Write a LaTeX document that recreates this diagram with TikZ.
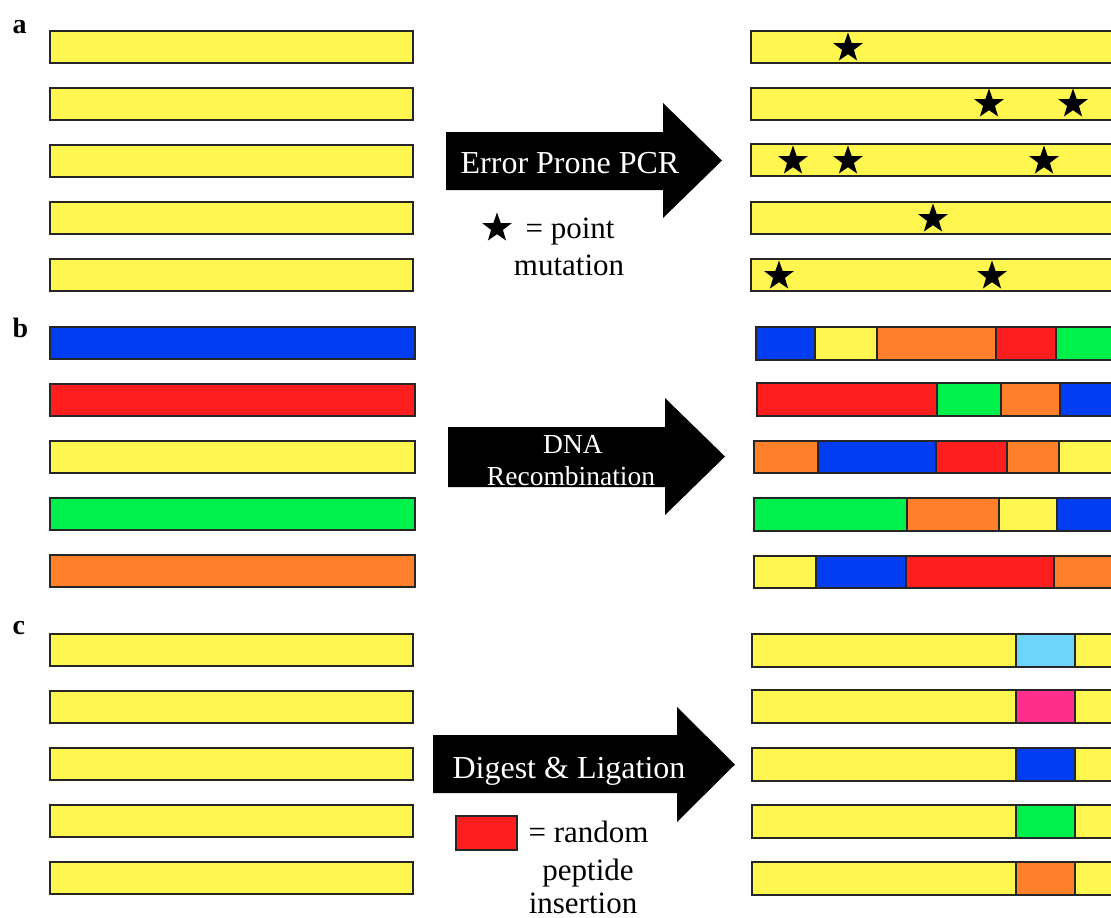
\documentclass[tikz,border=0pt]{standalone}
\usepackage{fontspec}
\setmainfont{Liberation Serif}
\usetikzlibrary{shapes.geometric}
\definecolor{cyel}{HTML}{FFF64F}
\definecolor{cblu}{HTML}{003CF0}
\definecolor{cred}{HTML}{FF1E1E}
\definecolor{cgrn}{HTML}{00F04C}
\definecolor{corg}{HTML}{FF7F2A}
\definecolor{clbl}{HTML}{6DD5FA}
\definecolor{cpnk}{HTML}{FF2D8C}
\begin{document}
\begin{tikzpicture}[x=1pt,y=-1pt,
  seg/.style={draw=black!85,line width=1.3pt},
  mut/.style={star,star points=5,star point ratio=2.5,fill=black,draw=none,minimum size=31pt,inner sep=0pt},
  arrowbody/.style={fill=black,draw=none},
  arrowtxt/.style={text=white,font=\fontsize{32}{34}\selectfont,anchor=base},
  legtxt/.style={text=black,font=\fontsize{31}{33}\selectfont,anchor=base},
  paneltag/.style={font=\bfseries\fontsize{28}{30}\selectfont,anchor=base west}]
\useasboundingbox (0,0) rectangle (1111,918);
\clip (0,0) rectangle (1111,918);

% panel labels
\node[paneltag] (la) at (9,33) {a};
\node[paneltag] (lb) at (9,337) {b};
\node[paneltag] (lc) at (9,634) {c};

% ---------- panel a ----------
\foreach \t in {31,88,145,202,259}{
  \filldraw[seg,fill=cyel] (50,\t) rectangle (413,\t+32);
}
\foreach \t in {31,88,144,202,259}{
  \filldraw[seg,fill=cyel] (751,\t) rectangle (1140,\t+32);
}
\node[mut] (s1) at (848,48) {};
\node[mut] (s2) at (989,104) {};
\node[mut] (s3) at (1073,104) {};
\node[mut] (s4) at (793,161) {};
\node[mut] (s5) at (848,161) {};
\node[mut] (s6) at (1044,161) {};
\node[mut] (s7) at (933,219) {};
\node[mut] (s8) at (779,276) {};
\node[mut] (s9) at (992,276) {};

\fill[arrowbody] (446,132) -- (663,132) -- (663,103) -- (722,160.5) -- (663,218) -- (663,190) -- (446,190) -- cycle;
\node[arrowtxt] (ta) at (570,173) {Error Prone PCR};
\node[mut] (legstar) at (497,228) {};
\node[legtxt,anchor=base west] (lt1) at (522,238) {= point};
\node[legtxt] (lt2) at (569,275) {mutation};

% ---------- panel b ----------
\filldraw[seg,fill=cblu] (50,327) rectangle (415,359);
\filldraw[seg,fill=cred] (50,384) rectangle (415,416);
\filldraw[seg,fill=cyel] (50,441) rectangle (415,473);
\filldraw[seg,fill=cgrn] (50,498) rectangle (415,530);
\filldraw[seg,fill=corg] (50,555) rectangle (415,587);

% right recombined
\filldraw[seg,fill=cblu] (756,327) rectangle (815,360);
\filldraw[seg,fill=cyel] (815,327) rectangle (877,360);
\filldraw[seg,fill=corg] (877,327) rectangle (996,360);
\filldraw[seg,fill=cred] (996,327) rectangle (1056,360);
\filldraw[seg,fill=cgrn] (1056,327) rectangle (1140,360);

\filldraw[seg,fill=cred] (757,383) rectangle (937,416);
\filldraw[seg,fill=cgrn] (937,383) rectangle (1001,416);
\filldraw[seg,fill=corg] (1001,383) rectangle (1060,416);
\filldraw[seg,fill=cblu] (1060,383) rectangle (1140,416);

\filldraw[seg,fill=corg] (754,441) rectangle (818,473);
\filldraw[seg,fill=cblu] (818,441) rectangle (936,473);
\filldraw[seg,fill=cred] (936,441) rectangle (1007,473);
\filldraw[seg,fill=corg] (1007,441) rectangle (1059,473);
\filldraw[seg,fill=cyel] (1059,441) rectangle (1140,473);

\filldraw[seg,fill=cgrn] (754,498) rectangle (907,531);
\filldraw[seg,fill=corg] (907,498) rectangle (999,531);
\filldraw[seg,fill=cyel] (999,498) rectangle (1057,531);
\filldraw[seg,fill=cblu] (1057,498) rectangle (1140,531);

\filldraw[seg,fill=cyel] (754,556) rectangle (816,588);
\filldraw[seg,fill=cblu] (816,556) rectangle (906,588);
\filldraw[seg,fill=cred] (906,556) rectangle (1054,588);
\filldraw[seg,fill=corg] (1054,556) rectangle (1140,588);

\fill[arrowbody] (448,427) -- (665,427) -- (665,398) -- (725,456.5) -- (665,515) -- (665,487) -- (448,487) -- cycle;
\node[arrowtxt,font=\fontsize{27.5}{29}\selectfont] (tb1) at (573,453) {DNA};
\node[arrowtxt,font=\fontsize{27.5}{29}\selectfont] (tb2) at (571,485) {Recombination};

% ---------- panel c ----------
\foreach \t in {634,691,748,805,862}{
  \filldraw[seg,fill=cyel] (50,\t) rectangle (413,\t+32);
}
\foreach \t/\c in {634/clbl,690/cpnk,748/cblu,805/cgrn,862/corg}{
  \filldraw[seg,fill=cyel] (752,\t) rectangle (1016,\t+33);
  \filldraw[seg,fill=cyel] (1075,\t) rectangle (1140,\t+33);
  \filldraw[seg,fill=\c] (1016,\t) rectangle (1075,\t+33);
}

\fill[arrowbody] (433,735) -- (677,735) -- (677,707) -- (735,764.5) -- (677,822) -- (677,793) -- (433,793) -- cycle;
\node[arrowtxt] (tc) at (569,778) {Digest \& Ligation};
\filldraw[seg,fill=cred] (456,816) rectangle (517,850);
\node[legtxt,anchor=base west] (lc1) at (525,842) {= random};
\node[legtxt] (lc2) at (588,880) {peptide};
\node[legtxt] (lc3) at (583,913) {insertion};
\end{tikzpicture}
\end{document}
